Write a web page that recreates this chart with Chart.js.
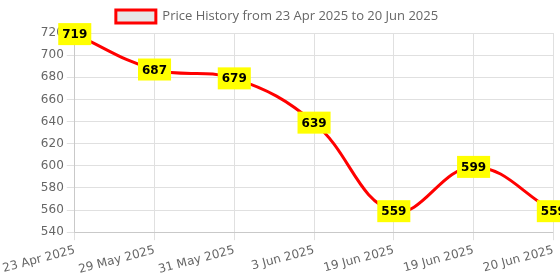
<!DOCTYPE html>
<html><head><meta charset="utf-8">
<script src="https://cdn.jsdelivr.net/npm/chart.js@4"></script>
<style>html,body{margin:0;padding:0;background:#fff}#wrap{width:560px;height:280px}</style>
</head><body><div id="wrap"><canvas id="c"></canvas></div>
<script>
const labels = ["23 Apr 2025","29 May 2025","31 May 2025","3 Jun 2025","19 Jun 2025","19 Jun 2025","20 Jun 2025"];
const prices = [719,687,679,639,559,599,559];
const yTicks = {min:540, max:720, step:20};
const seriesName = "Price History from 23 Apr 2025 to 20 Jun 2025";

const labelPlugin = {
  id:'valueLabels',
  afterDatasetsDraw(chart){
    const ctx = chart.ctx;
    const meta = chart.getDatasetMeta(0);
    ctx.save();
    ctx.font = 'bold 12px "DejaVu Sans"';
    ctx.textAlign='center'; ctx.textBaseline='middle';
    meta.data.forEach((pt,i)=>{
      const t = String(prices[i]);
      const w = ctx.measureText(t).width + 8;
      const h = 22;
      ctx.fillStyle='#ffff00';
      ctx.fillRect(pt.x - w/2, pt.y - h/2, w, h);
      ctx.fillStyle='#000';
      ctx.fillText(t, pt.x, pt.y+1);
    });
    ctx.restore();
  }
};

new Chart(document.getElementById('c'),{
  type:'line',
  data:{labels:labels,datasets:[{label:seriesName,data:prices,borderColor:'#ff0000',backgroundColor:'#e6e6e6',borderWidth:3,tension:0.4,pointRadius:0,fill:false}]},
  options:{
    responsive:true,maintainAspectRatio:false,animation:false,
    layout:{padding:{right:6}},
    plugins:{legend:{labels:{font:{family:'"Open Sans"',size:13},color:'#666'}},tooltip:{enabled:false}},
    scales:{
      x:{grid:{color:'#e0e0e0'},ticks:{font:{family:'"DejaVu Sans"',size:12},color:'#666'}},
      y:{min:yTicks.min,max:yTicks.max,grid:{color:'#e0e0e0'},ticks:{stepSize:yTicks.step,font:{family:'"DejaVu Sans"',size:12},color:'#666'}}
    }
  },
  plugins:[labelPlugin]
});
</script></body></html>
